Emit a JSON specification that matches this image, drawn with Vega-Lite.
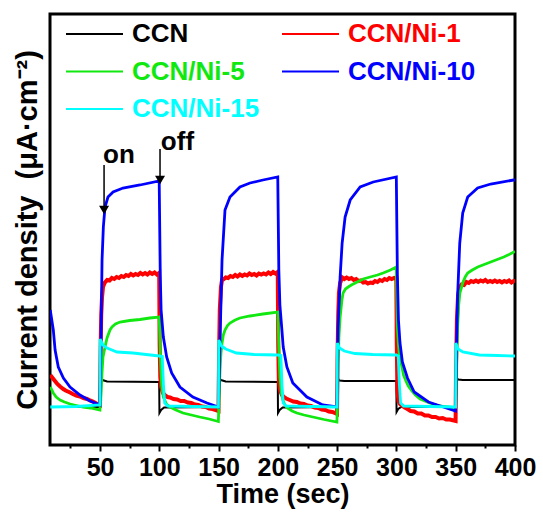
{
  "$schema": "https://vega.github.io/schema/vega-lite/v6.json",
  "width": 465,
  "height": 431,
  "autosize": {"type": "none"},
  "padding": {"left": 50, "top": 14, "right": 28, "bottom": 69},
  "background": "#ffffff",
  "config": {
    "font": "Liberation Sans",
    "view": {"stroke": "#000000", "strokeWidth": 3},
    "axis": {"grid": false, "domain": false}
  },
  "resolve": {"axis": {"x": "independent"}},
  "datasets": {
    "curves": [
      {"series": "CCN", "time": 8, "current": 3.8},
      {"series": "CCN", "time": 49.9, "current": 3.8},
      {"series": "CCN", "time": 50.1, "current": 6.7},
      {"series": "CCN", "time": 52, "current": 6.5},
      {"series": "CCN", "time": 56, "current": 6.35},
      {"series": "CCN", "time": 99.9, "current": 6.3},
      {"series": "CCN", "time": 100.1, "current": 3.2},
      {"series": "CCN", "time": 101.5, "current": 3.5},
      {"series": "CCN", "time": 104, "current": 3.75},
      {"series": "CCN", "time": 149.9, "current": 3.8},
      {"series": "CCN", "time": 150.1, "current": 6.7},
      {"series": "CCN", "time": 152, "current": 6.5},
      {"series": "CCN", "time": 156, "current": 6.35},
      {"series": "CCN", "time": 199.9, "current": 6.3},
      {"series": "CCN", "time": 200.1, "current": 3.2},
      {"series": "CCN", "time": 201.5, "current": 3.5},
      {"series": "CCN", "time": 204, "current": 3.75},
      {"series": "CCN", "time": 249.9, "current": 3.8},
      {"series": "CCN", "time": 250.1, "current": 6.7},
      {"series": "CCN", "time": 252, "current": 6.45},
      {"series": "CCN", "time": 256, "current": 6.4},
      {"series": "CCN", "time": 299.9, "current": 6.4},
      {"series": "CCN", "time": 300.1, "current": 3.3},
      {"series": "CCN", "time": 301.5, "current": 3.6},
      {"series": "CCN", "time": 304, "current": 3.8},
      {"series": "CCN", "time": 349.9, "current": 3.8},
      {"series": "CCN", "time": 350.1, "current": 6.8},
      {"series": "CCN", "time": 352, "current": 6.55},
      {"series": "CCN", "time": 356, "current": 6.5},
      {"series": "CCN", "time": 400, "current": 6.5},

      {"series": "CCN/Ni-1", "time": 8, "current": 7.0},
      {"series": "CCN/Ni-1", "time": 10, "current": 6.7},
      {"series": "CCN/Ni-1", "time": 12, "current": 6.4},
      {"series": "CCN/Ni-1", "time": 14, "current": 6.1},
      {"series": "CCN/Ni-1", "time": 16.3, "current": 5.85},
      {"series": "CCN/Ni-1", "time": 19, "current": 5.6},
      {"series": "CCN/Ni-1", "time": 21, "current": 5.45},
      {"series": "CCN/Ni-1", "time": 24.7, "current": 5.25},
      {"series": "CCN/Ni-1", "time": 27, "current": 5.1},
      {"series": "CCN/Ni-1", "time": 30, "current": 4.95},
      {"series": "CCN/Ni-1", "time": 33.1, "current": 4.85},
      {"series": "CCN/Ni-1", "time": 36, "current": 4.7},
      {"series": "CCN/Ni-1", "time": 39, "current": 4.6},
      {"series": "CCN/Ni-1", "time": 41.6, "current": 4.45},
      {"series": "CCN/Ni-1", "time": 44, "current": 4.35},
      {"series": "CCN/Ni-1", "time": 47, "current": 4.15},
      {"series": "CCN/Ni-1", "time": 49.9, "current": 4.0},
      {"series": "CCN/Ni-1", "time": 50.4, "current": 9.0},
      {"series": "CCN/Ni-1", "time": 51, "current": 13.0},
      {"series": "CCN/Ni-1", "time": 51.7, "current": 14.8},
      {"series": "CCN/Ni-1", "time": 52.5, "current": 15.8},
      {"series": "CCN/Ni-1", "time": 54, "current": 16.25},
      {"series": "CCN/Ni-1", "time": 56, "current": 16.5},
      {"series": "CCN/Ni-1", "time": 58, "current": 16.45},
      {"series": "CCN/Ni-1", "time": 60, "current": 16.7},
      {"series": "CCN/Ni-1", "time": 62, "current": 16.6},
      {"series": "CCN/Ni-1", "time": 64, "current": 16.8},
      {"series": "CCN/Ni-1", "time": 66, "current": 16.7},
      {"series": "CCN/Ni-1", "time": 68, "current": 16.9},
      {"series": "CCN/Ni-1", "time": 70, "current": 16.8},
      {"series": "CCN/Ni-1", "time": 72, "current": 17.0},
      {"series": "CCN/Ni-1", "time": 74, "current": 16.9},
      {"series": "CCN/Ni-1", "time": 76, "current": 17.1},
      {"series": "CCN/Ni-1", "time": 78, "current": 16.95},
      {"series": "CCN/Ni-1", "time": 80, "current": 17.1},
      {"series": "CCN/Ni-1", "time": 82, "current": 17.0},
      {"series": "CCN/Ni-1", "time": 84, "current": 17.2},
      {"series": "CCN/Ni-1", "time": 86, "current": 17.05},
      {"series": "CCN/Ni-1", "time": 88, "current": 17.2},
      {"series": "CCN/Ni-1", "time": 90, "current": 17.05},
      {"series": "CCN/Ni-1", "time": 92, "current": 17.25},
      {"series": "CCN/Ni-1", "time": 94, "current": 17.1},
      {"series": "CCN/Ni-1", "time": 96, "current": 17.25},
      {"series": "CCN/Ni-1", "time": 98, "current": 17.05},
      {"series": "CCN/Ni-1", "time": 99.9, "current": 17.2},
      {"series": "CCN/Ni-1", "time": 100.3, "current": 10.0},
      {"series": "CCN/Ni-1", "time": 100.8, "current": 6.8},
      {"series": "CCN/Ni-1", "time": 101.5, "current": 5.8},
      {"series": "CCN/Ni-1", "time": 103, "current": 5.2},
      {"series": "CCN/Ni-1", "time": 105, "current": 4.95},
      {"series": "CCN/Ni-1", "time": 107, "current": 4.8},
      {"series": "CCN/Ni-1", "time": 109, "current": 4.75},
      {"series": "CCN/Ni-1", "time": 112, "current": 4.6},
      {"series": "CCN/Ni-1", "time": 115, "current": 4.55},
      {"series": "CCN/Ni-1", "time": 118, "current": 4.4},
      {"series": "CCN/Ni-1", "time": 121, "current": 4.4},
      {"series": "CCN/Ni-1", "time": 124, "current": 4.25},
      {"series": "CCN/Ni-1", "time": 127, "current": 4.2},
      {"series": "CCN/Ni-1", "time": 130, "current": 4.05},
      {"series": "CCN/Ni-1", "time": 133, "current": 4.0},
      {"series": "CCN/Ni-1", "time": 136, "current": 3.85},
      {"series": "CCN/Ni-1", "time": 139, "current": 3.8},
      {"series": "CCN/Ni-1", "time": 142, "current": 3.65},
      {"series": "CCN/Ni-1", "time": 145, "current": 3.6},
      {"series": "CCN/Ni-1", "time": 149.9, "current": 3.4},
      {"series": "CCN/Ni-1", "time": 150.4, "current": 9.0},
      {"series": "CCN/Ni-1", "time": 151, "current": 13.5},
      {"series": "CCN/Ni-1", "time": 152, "current": 15.8},
      {"series": "CCN/Ni-1", "time": 152.9, "current": 16.5},
      {"series": "CCN/Ni-1", "time": 154, "current": 16.55},
      {"series": "CCN/Ni-1", "time": 156, "current": 16.75},
      {"series": "CCN/Ni-1", "time": 158, "current": 16.7},
      {"series": "CCN/Ni-1", "time": 160, "current": 16.9},
      {"series": "CCN/Ni-1", "time": 162, "current": 16.8},
      {"series": "CCN/Ni-1", "time": 164, "current": 17.0},
      {"series": "CCN/Ni-1", "time": 166, "current": 16.85},
      {"series": "CCN/Ni-1", "time": 168, "current": 17.05},
      {"series": "CCN/Ni-1", "time": 170, "current": 16.9},
      {"series": "CCN/Ni-1", "time": 172, "current": 17.05},
      {"series": "CCN/Ni-1", "time": 174, "current": 16.95},
      {"series": "CCN/Ni-1", "time": 176, "current": 17.15},
      {"series": "CCN/Ni-1", "time": 178, "current": 17.0},
      {"series": "CCN/Ni-1", "time": 180, "current": 17.1},
      {"series": "CCN/Ni-1", "time": 182, "current": 16.95},
      {"series": "CCN/Ni-1", "time": 184, "current": 17.15},
      {"series": "CCN/Ni-1", "time": 186, "current": 17.05},
      {"series": "CCN/Ni-1", "time": 188, "current": 17.15},
      {"series": "CCN/Ni-1", "time": 190, "current": 17.05},
      {"series": "CCN/Ni-1", "time": 192, "current": 17.25},
      {"series": "CCN/Ni-1", "time": 194, "current": 17.1},
      {"series": "CCN/Ni-1", "time": 196, "current": 17.3},
      {"series": "CCN/Ni-1", "time": 198, "current": 17.15},
      {"series": "CCN/Ni-1", "time": 199.9, "current": 17.3},
      {"series": "CCN/Ni-1", "time": 200.3, "current": 10.0},
      {"series": "CCN/Ni-1", "time": 200.8, "current": 6.5},
      {"series": "CCN/Ni-1", "time": 201.5, "current": 5.6},
      {"series": "CCN/Ni-1", "time": 203.4, "current": 5.0},
      {"series": "CCN/Ni-1", "time": 205, "current": 4.8},
      {"series": "CCN/Ni-1", "time": 207, "current": 4.65},
      {"series": "CCN/Ni-1", "time": 210, "current": 4.5},
      {"series": "CCN/Ni-1", "time": 213, "current": 4.35},
      {"series": "CCN/Ni-1", "time": 216, "current": 4.3},
      {"series": "CCN/Ni-1", "time": 219, "current": 4.15},
      {"series": "CCN/Ni-1", "time": 222, "current": 4.1},
      {"series": "CCN/Ni-1", "time": 225, "current": 3.95},
      {"series": "CCN/Ni-1", "time": 228, "current": 3.9},
      {"series": "CCN/Ni-1", "time": 231, "current": 3.75},
      {"series": "CCN/Ni-1", "time": 234, "current": 3.7},
      {"series": "CCN/Ni-1", "time": 237, "current": 3.55},
      {"series": "CCN/Ni-1", "time": 240, "current": 3.5},
      {"series": "CCN/Ni-1", "time": 243, "current": 3.35},
      {"series": "CCN/Ni-1", "time": 246, "current": 3.3},
      {"series": "CCN/Ni-1", "time": 249.9, "current": 3.1},
      {"series": "CCN/Ni-1", "time": 250.3, "current": 8.5},
      {"series": "CCN/Ni-1", "time": 250.9, "current": 13.0},
      {"series": "CCN/Ni-1", "time": 251.5, "current": 15.2},
      {"series": "CCN/Ni-1", "time": 252.5, "current": 16.2},
      {"series": "CCN/Ni-1", "time": 254.2, "current": 16.75},
      {"series": "CCN/Ni-1", "time": 256, "current": 16.6},
      {"series": "CCN/Ni-1", "time": 258, "current": 16.75},
      {"series": "CCN/Ni-1", "time": 260, "current": 16.6},
      {"series": "CCN/Ni-1", "time": 262, "current": 16.7},
      {"series": "CCN/Ni-1", "time": 264, "current": 16.5},
      {"series": "CCN/Ni-1", "time": 266, "current": 16.6},
      {"series": "CCN/Ni-1", "time": 268, "current": 16.4},
      {"series": "CCN/Ni-1", "time": 270, "current": 16.45},
      {"series": "CCN/Ni-1", "time": 272, "current": 16.25},
      {"series": "CCN/Ni-1", "time": 274, "current": 16.3},
      {"series": "CCN/Ni-1", "time": 276, "current": 16.15},
      {"series": "CCN/Ni-1", "time": 278, "current": 16.25},
      {"series": "CCN/Ni-1", "time": 280, "current": 16.2},
      {"series": "CCN/Ni-1", "time": 282, "current": 16.4},
      {"series": "CCN/Ni-1", "time": 284, "current": 16.3},
      {"series": "CCN/Ni-1", "time": 286, "current": 16.5},
      {"series": "CCN/Ni-1", "time": 288, "current": 16.4},
      {"series": "CCN/Ni-1", "time": 290, "current": 16.6},
      {"series": "CCN/Ni-1", "time": 292, "current": 16.5},
      {"series": "CCN/Ni-1", "time": 294, "current": 16.7},
      {"series": "CCN/Ni-1", "time": 296, "current": 16.6},
      {"series": "CCN/Ni-1", "time": 298, "current": 16.7},
      {"series": "CCN/Ni-1", "time": 299.9, "current": 16.6},
      {"series": "CCN/Ni-1", "time": 300.3, "current": 10.0},
      {"series": "CCN/Ni-1", "time": 300.8, "current": 5.5},
      {"series": "CCN/Ni-1", "time": 301.7, "current": 4.4},
      {"series": "CCN/Ni-1", "time": 303, "current": 4.1},
      {"series": "CCN/Ni-1", "time": 305, "current": 3.9},
      {"series": "CCN/Ni-1", "time": 307, "current": 3.75},
      {"series": "CCN/Ni-1", "time": 309.3, "current": 3.6},
      {"series": "CCN/Ni-1", "time": 312, "current": 3.4},
      {"series": "CCN/Ni-1", "time": 315, "current": 3.35},
      {"series": "CCN/Ni-1", "time": 318, "current": 3.15},
      {"series": "CCN/Ni-1", "time": 321, "current": 3.15},
      {"series": "CCN/Ni-1", "time": 324, "current": 2.95},
      {"series": "CCN/Ni-1", "time": 327, "current": 2.95},
      {"series": "CCN/Ni-1", "time": 330, "current": 2.8},
      {"series": "CCN/Ni-1", "time": 333, "current": 2.8},
      {"series": "CCN/Ni-1", "time": 336, "current": 2.65},
      {"series": "CCN/Ni-1", "time": 339, "current": 2.7},
      {"series": "CCN/Ni-1", "time": 342, "current": 2.55},
      {"series": "CCN/Ni-1", "time": 345, "current": 2.55},
      {"series": "CCN/Ni-1", "time": 349.9, "current": 2.4},
      {"series": "CCN/Ni-1", "time": 350.3, "current": 8.0},
      {"series": "CCN/Ni-1", "time": 351, "current": 12.5},
      {"series": "CCN/Ni-1", "time": 352, "current": 15.0},
      {"series": "CCN/Ni-1", "time": 353.4, "current": 15.8},
      {"series": "CCN/Ni-1", "time": 355, "current": 16.05},
      {"series": "CCN/Ni-1", "time": 357, "current": 16.0},
      {"series": "CCN/Ni-1", "time": 359, "current": 16.3},
      {"series": "CCN/Ni-1", "time": 361, "current": 16.2},
      {"series": "CCN/Ni-1", "time": 363, "current": 16.4},
      {"series": "CCN/Ni-1", "time": 365, "current": 16.3},
      {"series": "CCN/Ni-1", "time": 367, "current": 16.45},
      {"series": "CCN/Ni-1", "time": 369, "current": 16.3},
      {"series": "CCN/Ni-1", "time": 371, "current": 16.45},
      {"series": "CCN/Ni-1", "time": 373, "current": 16.35},
      {"series": "CCN/Ni-1", "time": 375, "current": 16.5},
      {"series": "CCN/Ni-1", "time": 377, "current": 16.3},
      {"series": "CCN/Ni-1", "time": 379, "current": 16.4},
      {"series": "CCN/Ni-1", "time": 381, "current": 16.3},
      {"series": "CCN/Ni-1", "time": 383, "current": 16.45},
      {"series": "CCN/Ni-1", "time": 385, "current": 16.3},
      {"series": "CCN/Ni-1", "time": 387, "current": 16.4},
      {"series": "CCN/Ni-1", "time": 389, "current": 16.25},
      {"series": "CCN/Ni-1", "time": 391, "current": 16.4},
      {"series": "CCN/Ni-1", "time": 393, "current": 16.3},
      {"series": "CCN/Ni-1", "time": 395, "current": 16.45},
      {"series": "CCN/Ni-1", "time": 397, "current": 16.25},
      {"series": "CCN/Ni-1", "time": 399, "current": 16.4},
      {"series": "CCN/Ni-1", "time": 400, "current": 16.3},

      {"series": "CCN/Ni-5", "time": 8, "current": 5.8},
      {"series": "CCN/Ni-5", "time": 10.6, "current": 5.2},
      {"series": "CCN/Ni-5", "time": 13, "current": 4.8},
      {"series": "CCN/Ni-5", "time": 16.3, "current": 4.5},
      {"series": "CCN/Ni-5", "time": 20, "current": 4.3},
      {"series": "CCN/Ni-5", "time": 24.7, "current": 4.1},
      {"series": "CCN/Ni-5", "time": 30, "current": 3.95},
      {"series": "CCN/Ni-5", "time": 35.7, "current": 3.8},
      {"series": "CCN/Ni-5", "time": 42, "current": 3.7},
      {"series": "CCN/Ni-5", "time": 49.9, "current": 3.5},
      {"series": "CCN/Ni-5", "time": 50.6, "current": 4.5},
      {"series": "CCN/Ni-5", "time": 51.2, "current": 6.0},
      {"series": "CCN/Ni-5", "time": 51.7, "current": 7.3},
      {"series": "CCN/Ni-5", "time": 52.5, "current": 8.8},
      {"series": "CCN/Ni-5", "time": 54.2, "current": 9.8},
      {"series": "CCN/Ni-5", "time": 55.9, "current": 10.7},
      {"series": "CCN/Ni-5", "time": 58.4, "current": 11.5},
      {"series": "CCN/Ni-5", "time": 60.1, "current": 11.8},
      {"series": "CCN/Ni-5", "time": 63, "current": 12.1},
      {"series": "CCN/Ni-5", "time": 66.9, "current": 12.3},
      {"series": "CCN/Ni-5", "time": 75, "current": 12.45},
      {"series": "CCN/Ni-5", "time": 83.7, "current": 12.55},
      {"series": "CCN/Ni-5", "time": 92, "current": 12.7},
      {"series": "CCN/Ni-5", "time": 99.9, "current": 12.8},
      {"series": "CCN/Ni-5", "time": 100.4, "current": 11.0},
      {"series": "CCN/Ni-5", "time": 101.2, "current": 8.0},
      {"series": "CCN/Ni-5", "time": 102, "current": 6.0},
      {"series": "CCN/Ni-5", "time": 103.4, "current": 4.8},
      {"series": "CCN/Ni-5", "time": 106, "current": 4.1},
      {"series": "CCN/Ni-5", "time": 109.1, "current": 3.8},
      {"series": "CCN/Ni-5", "time": 114, "current": 3.5},
      {"series": "CCN/Ni-5", "time": 120, "current": 3.2},
      {"series": "CCN/Ni-5", "time": 127, "current": 3.0},
      {"series": "CCN/Ni-5", "time": 134, "current": 2.8},
      {"series": "CCN/Ni-5", "time": 142, "current": 2.6},
      {"series": "CCN/Ni-5", "time": 149.8, "current": 2.35},
      {"series": "CCN/Ni-5", "time": 150.5, "current": 5.0},
      {"series": "CCN/Ni-5", "time": 151.2, "current": 7.5},
      {"series": "CCN/Ni-5", "time": 152, "current": 9.2},
      {"series": "CCN/Ni-5", "time": 152.9, "current": 10.2},
      {"series": "CCN/Ni-5", "time": 154, "current": 11.0},
      {"series": "CCN/Ni-5", "time": 155.4, "current": 11.5},
      {"series": "CCN/Ni-5", "time": 157.5, "current": 11.95},
      {"series": "CCN/Ni-5", "time": 159.6, "current": 12.2},
      {"series": "CCN/Ni-5", "time": 164, "current": 12.5},
      {"series": "CCN/Ni-5", "time": 168, "current": 12.7},
      {"series": "CCN/Ni-5", "time": 176.5, "current": 12.9},
      {"series": "CCN/Ni-5", "time": 187.4, "current": 13.1},
      {"series": "CCN/Ni-5", "time": 199.9, "current": 13.3},
      {"series": "CCN/Ni-5", "time": 200.3, "current": 12.0},
      {"series": "CCN/Ni-5", "time": 201, "current": 9.0},
      {"series": "CCN/Ni-5", "time": 201.7, "current": 6.8},
      {"series": "CCN/Ni-5", "time": 203, "current": 5.2},
      {"series": "CCN/Ni-5", "time": 204.2, "current": 4.5},
      {"series": "CCN/Ni-5", "time": 206, "current": 4.0},
      {"series": "CCN/Ni-5", "time": 208, "current": 3.7},
      {"series": "CCN/Ni-5", "time": 212, "current": 3.4},
      {"series": "CCN/Ni-5", "time": 216, "current": 3.2},
      {"series": "CCN/Ni-5", "time": 222, "current": 3.0},
      {"series": "CCN/Ni-5", "time": 229.5, "current": 2.8},
      {"series": "CCN/Ni-5", "time": 239, "current": 2.55},
      {"series": "CCN/Ni-5", "time": 249.8, "current": 2.3},
      {"series": "CCN/Ni-5", "time": 250.4, "current": 5.0},
      {"series": "CCN/Ni-5", "time": 250.8, "current": 8.0},
      {"series": "CCN/Ni-5", "time": 251.5, "current": 10.8},
      {"series": "CCN/Ni-5", "time": 252.5, "current": 12.8},
      {"series": "CCN/Ni-5", "time": 254, "current": 14.5},
      {"series": "CCN/Ni-5", "time": 255, "current": 15.2},
      {"series": "CCN/Ni-5", "time": 257, "current": 15.6},
      {"series": "CCN/Ni-5", "time": 259.3, "current": 15.8},
      {"series": "CCN/Ni-5", "time": 262, "current": 16.0},
      {"series": "CCN/Ni-5", "time": 266.9, "current": 16.3},
      {"series": "CCN/Ni-5", "time": 272, "current": 16.6},
      {"series": "CCN/Ni-5", "time": 277.8, "current": 16.8},
      {"series": "CCN/Ni-5", "time": 284, "current": 17.0},
      {"series": "CCN/Ni-5", "time": 288.8, "current": 17.2},
      {"series": "CCN/Ni-5", "time": 295, "current": 17.5},
      {"series": "CCN/Ni-5", "time": 299.9, "current": 17.8},
      {"series": "CCN/Ni-5", "time": 300.3, "current": 15.0},
      {"series": "CCN/Ni-5", "time": 300.8, "current": 11.8},
      {"series": "CCN/Ni-5", "time": 301.7, "current": 10.0},
      {"series": "CCN/Ni-5", "time": 302.5, "current": 9.0},
      {"series": "CCN/Ni-5", "time": 303.4, "current": 8.5},
      {"series": "CCN/Ni-5", "time": 305, "current": 7.6},
      {"series": "CCN/Ni-5", "time": 306, "current": 7.0},
      {"series": "CCN/Ni-5", "time": 308, "current": 6.4},
      {"series": "CCN/Ni-5", "time": 310, "current": 5.9},
      {"series": "CCN/Ni-5", "time": 313, "current": 5.4},
      {"series": "CCN/Ni-5", "time": 316, "current": 5.0},
      {"series": "CCN/Ni-5", "time": 320, "current": 4.6},
      {"series": "CCN/Ni-5", "time": 324, "current": 4.4},
      {"series": "CCN/Ni-5", "time": 328, "current": 4.2},
      {"series": "CCN/Ni-5", "time": 334, "current": 4.0},
      {"series": "CCN/Ni-5", "time": 340, "current": 3.85},
      {"series": "CCN/Ni-5", "time": 347, "current": 3.75},
      {"series": "CCN/Ni-5", "time": 349.8, "current": 3.7},
      {"series": "CCN/Ni-5", "time": 350.4, "current": 6.0},
      {"series": "CCN/Ni-5", "time": 350.8, "current": 8.5},
      {"series": "CCN/Ni-5", "time": 351.5, "current": 11.5},
      {"series": "CCN/Ni-5", "time": 352.5, "current": 14.0},
      {"series": "CCN/Ni-5", "time": 353.5, "current": 15.2},
      {"series": "CCN/Ni-5", "time": 355.9, "current": 16.2},
      {"series": "CCN/Ni-5", "time": 358, "current": 16.8},
      {"series": "CCN/Ni-5", "time": 360.1, "current": 17.2},
      {"series": "CCN/Ni-5", "time": 364, "current": 17.5},
      {"series": "CCN/Ni-5", "time": 368.6, "current": 17.8},
      {"series": "CCN/Ni-5", "time": 374, "current": 18.05},
      {"series": "CCN/Ni-5", "time": 379.5, "current": 18.3},
      {"series": "CCN/Ni-5", "time": 385, "current": 18.55},
      {"series": "CCN/Ni-5", "time": 390.5, "current": 18.8},
      {"series": "CCN/Ni-5", "time": 395, "current": 19.05},
      {"series": "CCN/Ni-5", "time": 400, "current": 19.35},

      {"series": "CCN/Ni-10", "time": 8, "current": 13.5},
      {"series": "CCN/Ni-10", "time": 10.6, "current": 11.5},
      {"series": "CCN/Ni-10", "time": 12.1, "current": 9.5},
      {"series": "CCN/Ni-10", "time": 14.8, "current": 7.8},
      {"series": "CCN/Ni-10", "time": 19.1, "current": 6.7},
      {"series": "CCN/Ni-10", "time": 24.7, "current": 5.8},
      {"series": "CCN/Ni-10", "time": 33.1, "current": 5.0},
      {"series": "CCN/Ni-10", "time": 41.6, "current": 4.4},
      {"series": "CCN/Ni-10", "time": 49.9, "current": 4.0},
      {"series": "CCN/Ni-10", "time": 50.8, "current": 10.2},
      {"series": "CCN/Ni-10", "time": 51.7, "current": 18.5},
      {"series": "CCN/Ni-10", "time": 52.8, "current": 21.8},
      {"series": "CCN/Ni-10", "time": 54.2, "current": 23.8},
      {"series": "CCN/Ni-10", "time": 56.7, "current": 24.8},
      {"series": "CCN/Ni-10", "time": 61, "current": 25.3},
      {"series": "CCN/Ni-10", "time": 69.4, "current": 25.7},
      {"series": "CCN/Ni-10", "time": 83.7, "current": 26.0},
      {"series": "CCN/Ni-10", "time": 99.9, "current": 26.4},
      {"series": "CCN/Ni-10", "time": 100.8, "current": 17.0},
      {"series": "CCN/Ni-10", "time": 101.5, "current": 13.5},
      {"series": "CCN/Ni-10", "time": 103.4, "current": 10.8},
      {"series": "CCN/Ni-10", "time": 106.2, "current": 8.8},
      {"series": "CCN/Ni-10", "time": 110.4, "current": 7.2},
      {"series": "CCN/Ni-10", "time": 117.4, "current": 5.8},
      {"series": "CCN/Ni-10", "time": 128.3, "current": 4.8},
      {"series": "CCN/Ni-10", "time": 140.2, "current": 4.2},
      {"series": "CCN/Ni-10", "time": 149.9, "current": 3.8},
      {"series": "CCN/Ni-10", "time": 151.2, "current": 10.5},
      {"series": "CCN/Ni-10", "time": 152.9, "current": 18.5},
      {"series": "CCN/Ni-10", "time": 155.4, "current": 23.5},
      {"series": "CCN/Ni-10", "time": 159.6, "current": 24.8},
      {"series": "CCN/Ni-10", "time": 168, "current": 25.8},
      {"series": "CCN/Ni-10", "time": 176.5, "current": 26.2},
      {"series": "CCN/Ni-10", "time": 187.4, "current": 26.5},
      {"series": "CCN/Ni-10", "time": 199.9, "current": 26.8},
      {"series": "CCN/Ni-10", "time": 200.8, "current": 17.5},
      {"series": "CCN/Ni-10", "time": 201.7, "current": 14.0},
      {"series": "CCN/Ni-10", "time": 203.4, "current": 11.5},
      {"series": "CCN/Ni-10", "time": 204.5, "current": 9.8},
      {"series": "CCN/Ni-10", "time": 207.6, "current": 7.8},
      {"series": "CCN/Ni-10", "time": 212.6, "current": 6.2},
      {"series": "CCN/Ni-10", "time": 224.5, "current": 4.8},
      {"series": "CCN/Ni-10", "time": 237.9, "current": 4.0},
      {"series": "CCN/Ni-10", "time": 249.9, "current": 3.8},
      {"series": "CCN/Ni-10", "time": 250.8, "current": 11.8},
      {"series": "CCN/Ni-10", "time": 252.5, "current": 16.8},
      {"series": "CCN/Ni-10", "time": 254.2, "current": 20.2},
      {"series": "CCN/Ni-10", "time": 256.7, "current": 22.8},
      {"series": "CCN/Ni-10", "time": 261, "current": 24.5},
      {"series": "CCN/Ni-10", "time": 269.4, "current": 25.8},
      {"series": "CCN/Ni-10", "time": 280.4, "current": 26.3},
      {"series": "CCN/Ni-10", "time": 299.9, "current": 26.8},
      {"series": "CCN/Ni-10", "time": 300.8, "current": 17.0},
      {"series": "CCN/Ni-10", "time": 301.7, "current": 12.5},
      {"series": "CCN/Ni-10", "time": 303, "current": 10.2},
      {"series": "CCN/Ni-10", "time": 305, "current": 8.3},
      {"series": "CCN/Ni-10", "time": 309.3, "current": 6.7},
      {"series": "CCN/Ni-10", "time": 315, "current": 5.3},
      {"series": "CCN/Ni-10", "time": 327, "current": 4.3},
      {"series": "CCN/Ni-10", "time": 337, "current": 3.9},
      {"series": "CCN/Ni-10", "time": 349.9, "current": 3.4},
      {"series": "CCN/Ni-10", "time": 350.8, "current": 10.5},
      {"series": "CCN/Ni-10", "time": 351.7, "current": 15.2},
      {"series": "CCN/Ni-10", "time": 353.4, "current": 20.2},
      {"series": "CCN/Ni-10", "time": 355.9, "current": 23.2},
      {"series": "CCN/Ni-10", "time": 360.1, "current": 24.8},
      {"series": "CCN/Ni-10", "time": 368.5, "current": 25.7},
      {"series": "CCN/Ni-10", "time": 379.5, "current": 26.1},
      {"series": "CCN/Ni-10", "time": 398.9, "current": 26.5},
      {"series": "CCN/Ni-10", "time": 400, "current": 26.5},

      {"series": "CCN/Ni-15", "time": 8, "current": 3.8},
      {"series": "CCN/Ni-15", "time": 30, "current": 3.85},
      {"series": "CCN/Ni-15", "time": 49.9, "current": 4.0},
      {"series": "CCN/Ni-15", "time": 50.1, "current": 10.6},
      {"series": "CCN/Ni-15", "time": 52.5, "current": 10.0},
      {"series": "CCN/Ni-15", "time": 55.9, "current": 9.7},
      {"series": "CCN/Ni-15", "time": 64.3, "current": 9.3},
      {"series": "CCN/Ni-15", "time": 77.8, "current": 9.2},
      {"series": "CCN/Ni-15", "time": 100, "current": 8.9},
      {"series": "CCN/Ni-15", "time": 102.5, "current": 8.85},
      {"series": "CCN/Ni-15", "time": 103.5, "current": 6.0},
      {"series": "CCN/Ni-15", "time": 104.5, "current": 4.2},
      {"series": "CCN/Ni-15", "time": 107, "current": 3.9},
      {"series": "CCN/Ni-15", "time": 149.9, "current": 3.8},
      {"series": "CCN/Ni-15", "time": 150.1, "current": 10.5},
      {"series": "CCN/Ni-15", "time": 152.5, "current": 9.9},
      {"series": "CCN/Ni-15", "time": 156, "current": 9.6},
      {"series": "CCN/Ni-15", "time": 165, "current": 9.2},
      {"series": "CCN/Ni-15", "time": 180, "current": 9.05},
      {"series": "CCN/Ni-15", "time": 200, "current": 9.0},
      {"series": "CCN/Ni-15", "time": 202.5, "current": 8.95},
      {"series": "CCN/Ni-15", "time": 203.5, "current": 6.0},
      {"series": "CCN/Ni-15", "time": 204.5, "current": 4.2},
      {"series": "CCN/Ni-15", "time": 207, "current": 3.9},
      {"series": "CCN/Ni-15", "time": 249.9, "current": 3.8},
      {"series": "CCN/Ni-15", "time": 250.1, "current": 10.2},
      {"series": "CCN/Ni-15", "time": 252, "current": 9.7},
      {"series": "CCN/Ni-15", "time": 256, "current": 9.4},
      {"series": "CCN/Ni-15", "time": 265, "current": 9.15},
      {"series": "CCN/Ni-15", "time": 280, "current": 9.05},
      {"series": "CCN/Ni-15", "time": 300, "current": 9.0},
      {"series": "CCN/Ni-15", "time": 301.5, "current": 8.9},
      {"series": "CCN/Ni-15", "time": 302.5, "current": 6.0},
      {"series": "CCN/Ni-15", "time": 303.5, "current": 4.2},
      {"series": "CCN/Ni-15", "time": 306, "current": 3.9},
      {"series": "CCN/Ni-15", "time": 349.9, "current": 3.8},
      {"series": "CCN/Ni-15", "time": 350.1, "current": 10.2},
      {"series": "CCN/Ni-15", "time": 352, "current": 9.6},
      {"series": "CCN/Ni-15", "time": 356, "current": 9.3},
      {"series": "CCN/Ni-15", "time": 370, "current": 9.0},
      {"series": "CCN/Ni-15", "time": 385, "current": 8.95},
      {"series": "CCN/Ni-15", "time": 400, "current": 8.9}
    ],
    "arrows": [
      {"time": 53.4, "from": 28.0, "to": 23.5},
      {"time": 100.6, "from": 29.6, "to": 26.5}
    ],
    "notes": [
      {"time": 52.5, "current": 28.2, "label": "on"},
      {"time": 101.3, "current": 29.5, "label": "off"}
    ]
  },
  "layer": [
    {
      "data": {"name": "curves"},
      "mark": {"type": "line", "clip": true},
      "encoding": {
        "x": {
          "field": "time",
          "type": "quantitative",
          "scale": {"domain": [7.8, 400], "nice": false, "zero": false},
          "axis": {
            "orient": "bottom",
            "title": "Time (sec)",
            "values": [50, 100, 150, 200, 250, 300, 350, 400],
            "format": "d",
            "tickColor": "#000000",
            "tickWidth": 2,
            "tickSize": 6,
            "labelFontSize": 25,
            "labelFontWeight": "bold",
            "labelColor": "#000000",
            "labelPadding": 4,
            "labelFlush": false,
            "labelOverlap": false,
            "titleFontSize": 27,
            "titleFontWeight": "bold",
            "titleColor": "#000000",
            "titlePadding": 1
          }
        },
        "y": {
          "field": "current",
          "type": "quantitative",
          "scale": {"domain": [0, 43.1], "nice": false},
          "axis": {
            "title": "Current density\u00a0 (μA·cm⁻²)",
            "labels": false,
            "ticks": false,
            "titleFontSize": 29,
            "titleFontWeight": "bold",
            "titleColor": "#000000",
            "titlePadding": 8
          }
        },
        "color": {
          "field": "series",
          "type": "nominal",
          "scale": {
            "domain": ["CCN", "CCN/Ni-1", "CCN/Ni-5", "CCN/Ni-10", "CCN/Ni-15"],
            "range": ["#000000", "#ff0000", "#10e810", "#0000ff", "#00ffff"]
          },
          "legend": {
            "orient": "none",
            "direction": "horizontal",
            "legendX": 15,
            "legendY": 7,
            "columns": 2,
            "title": null,
            "symbolType": "stroke",
            "symbolSize": 3249,
            "symbolStrokeWidth": 2,
            "clipHeight": 26,
            "labelFontSize": 26,
            "labelFontWeight": "bold",
            "labelOffset": 8,
            "labelLimit": 400,
            "labelColor": {"expr": "scale('color', datum.value)"},
            "rowPadding": 11.5,
            "columnPadding": 21
          }
        },
        "strokeWidth": {
          "condition": [
            {"test": "datum.series === 'CCN'", "value": 2},
            {"test": "datum.series === 'CCN/Ni-1'", "value": 4}
          ],
          "value": 2.8
        }
      }
    },
    {
      "data": {"name": "arrows"},
      "mark": {"type": "rule", "color": "#000000", "strokeWidth": 1.5},
      "encoding": {
        "x": {
          "field": "time",
          "type": "quantitative",
          "axis": {
            "orient": "bottom",
            "title": null,
            "values": [25, 75, 125, 175, 225, 275, 325, 375],
            "labels": false,
            "tickColor": "#000000",
            "tickWidth": 2,
            "tickSize": 3
          }
        },
        "y": {"field": "from", "type": "quantitative"},
        "y2": {"field": "to"}
      }
    },
    {
      "data": {"name": "arrows"},
      "mark": {"type": "point", "shape": "triangle-down", "filled": true, "color": "#000000", "size": 100, "opacity": 1},
      "encoding": {
        "x": {"field": "time", "type": "quantitative", "axis": null},
        "y": {"field": "to", "type": "quantitative"}
      }
    },
    {
      "data": {"name": "notes"},
      "mark": {"type": "text", "align": "left", "baseline": "alphabetic", "fontSize": 26, "fontWeight": "bold", "color": "#000000"},
      "encoding": {
        "x": {"field": "time", "type": "quantitative", "axis": null},
        "y": {"field": "current", "type": "quantitative"},
        "text": {"field": "label"}
      }
    }
  ]
}
